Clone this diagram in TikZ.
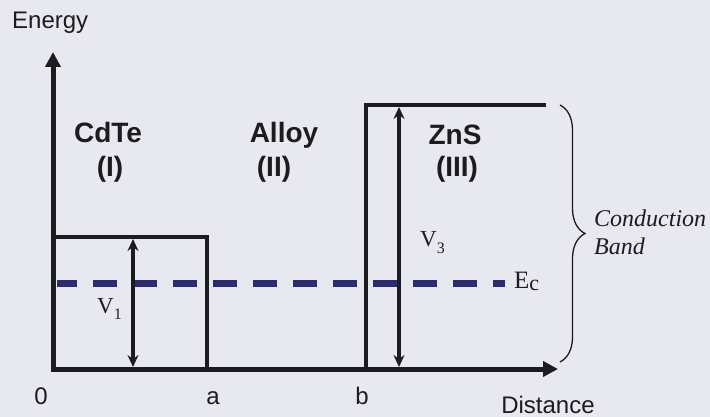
\documentclass[tikz,border=0pt]{standalone}
\usepackage{fontspec}
\setmainfont{Liberation Serif}
\setsansfont{Liberation Sans}
\usepackage{tikz}
\usetikzlibrary{arrows.meta,decorations.pathreplacing}
\definecolor{paper}{HTML}{E8E8F0}
\definecolor{ink}{HTML}{1C1C1E}
\definecolor{level}{HTML}{2C2C6A}
\newcommand\lowidx[1]{\raisebox{-6pt}{\fontsize{16}{16}\selectfont #1}}

\begin{document}
\begin{tikzpicture}[
  x=1pt,y=-1pt,
  matl/.style={font=\sffamily\bfseries\fontsize{28}{30}\selectfont,text=ink,inner sep=0pt,anchor=base},
  axlbl/.style={font=\sffamily\fontsize{24}{26}\selectfont,text=ink,inner sep=0pt,anchor=base},
  sym/.style={font=\fontsize{23}{25}\selectfont,text=ink,inner sep=0pt,anchor=base west},
  axisline/.style={{Triangle[length=15pt,width=15pt]}-{Triangle[length=15pt,width=15pt]},line width=5pt,ink},
  wall/.style={line width=3.8pt,ink},
  gap/.style={{Stealth[length=12pt,width=11pt,inset=4pt]}-{Stealth[length=12pt,width=11pt,inset=4pt]},line width=3.5pt,ink},
  lvl/.style={line width=7pt,level,dash pattern=on 24pt off 16pt,dash phase=4pt},
  cbrace/.style={decorate,decoration={brace,amplitude=25pt},line width=1.3pt,ink}
]
\fill[paper] (0,0) rectangle (710,417);
\useasboundingbox (0,0) rectangle (710,417);
% axes
\coordinate (O) at (53,369);
\coordinate (Ytop) at (53,52);
\coordinate (Xend) at (558,369);
% wells and barriers
\coordinate (w1) at (55,237); \coordinate (w2) at (207,237); \coordinate (a) at (207,369);
\coordinate (b) at (366,369); \coordinate (z1) at (366,105); \coordinate (z2) at (546,105);
\coordinate (v1b) at (133,367); \coordinate (v1t) at (133,239);
\coordinate (v3b) at (399,367); \coordinate (v3t) at (399,107);
\coordinate (e0) at (57,283); \coordinate (e1) at (505,283);
\coordinate (br1) at (560,105); \coordinate (br2) at (560,362);

\draw[lvl] (e0) -- (e1);
\draw[wall] (w1) -- (w2) -- (a);
\draw[wall] (b) -- (z1) -- (z2);
\draw[axisline] (Ytop) -- (O) -- (Xend);
\draw[gap] (v1b) -- (v1t);
\draw[gap] (v3b) -- (v3t);
\draw[cbrace] (br1) -- (br2);

% labels
\node[axlbl,anchor=base west] (energy) at (12,29) {Energy};
\node[axlbl] (dist) at (548,413) {Distance};
\node[axlbl] (x0) at (41,404) {0};
\node[axlbl] (xa) at (213,404) {a};
\node[axlbl] (xb) at (362,404) {b};
\node[matl] (cdte) at (108,143) {CdTe};
\node[matl] (r1) at (110,177) {(I)};
\node[matl] (alloy) at (284,143) {Alloy};
\node[matl] (r2) at (274,177) {(II)};
\node[matl] (zns) at (455,145) {ZnS};
\node[matl] (r3) at (457,177) {(III)};
\node[sym] (V1) at (97,313) {V\lowidx{1}};
\node[sym] (V3) at (420,247) {V\lowidx{3}};
\node[sym,font=\fontsize{25}{27}\selectfont] (Ec) at (514,288) {E\raisebox{-2pt}{\fontsize{22}{22}\selectfont c}};
\node[font=\itshape\fontsize{24}{28}\selectfont,text=ink,align=left,inner sep=0pt,anchor=west] (cband) at (594,232.5) {Conduction\\Band};
\end{tikzpicture}
\end{document}
